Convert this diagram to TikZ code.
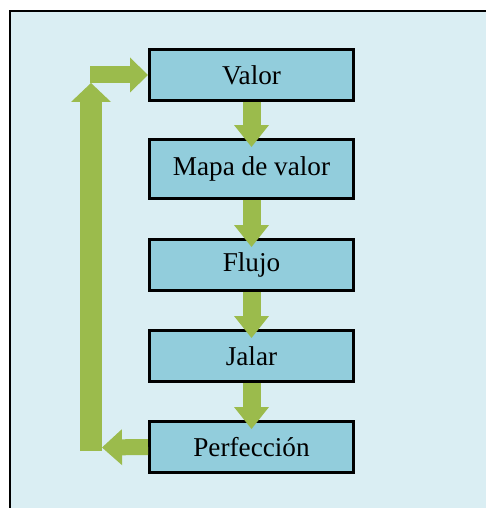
\documentclass[tikz,border=0pt]{standalone}
\usepackage{fontspec}
\setmainfont{Liberation Serif}
\usetikzlibrary{arrows.meta, positioning}

\definecolor{paneblue}{HTML}{DAEEF3}
\definecolor{boxblue}{HTML}{92CDDC}
\definecolor{leafgreen}{HTML}{9BBB4C}

\tikzset{
  stage/.style={draw, line width=3pt, fill=boxblue, minimum width=204pt,
    minimum height=51pt, inner sep=0pt, font=\fontsize{27.2}{31}\selectfont},
  flow/.style={-{Triangle[length=22pt, width=35pt, line width=0pt]},
    line width=18pt, draw=leafgreen, shorten >=-9pt},
  loopback/.style={-{Triangle[length=20pt, width=36pt, line width=0pt]},
    line width=16pt, draw=leafgreen},
  riser/.style={-{Triangle[length=19pt, width=40pt, line width=0pt]},
    line width=22pt, draw=leafgreen},
  feed/.style={-{Triangle[length=18pt, width=35pt, line width=0pt]},
    line width=17pt, draw=leafgreen},
}

\begin{document}
\begin{tikzpicture}[x=1pt, y=-1pt]

  \clip (0,0) rectangle (486,508);

  % Panel
  \draw[fill=paneblue, line width=2.5pt] (10,11) rectangle (530,550);

  % Stages
  \node[stage] (valor) at (251.5,75) {Valor};
  \node[stage, minimum height=59pt, below=36pt of valor] (mapa) {Mapa de valor};
  \node[stage, below=38pt of mapa] (flujo) {Flujo};
  \node[stage, below=37pt of flujo] (jalar) {Jalar};
  \node[stage, below=37pt of jalar] (perf) {Perfección};

  % Down arrows
  \draw[flow] (valor) -- (mapa);
  \draw[flow] (mapa) -- (flujo);
  \draw[flow] (flujo) -- (jalar);
  \draw[flow] (jalar) -- (perf);

  % Loop back to the start
  \coordinate (back) at (102,447.5);
  \coordinate (foot) at (91,451);
  \coordinate (top) at (91,83);
  \coordinate (start) at (90,75);
  \draw[riser] (foot) -- (top);
  \draw[loopback] (perf.west) -- (back);
  \draw[feed] (start) -- (valor.west);

\end{tikzpicture}
\end{document}
